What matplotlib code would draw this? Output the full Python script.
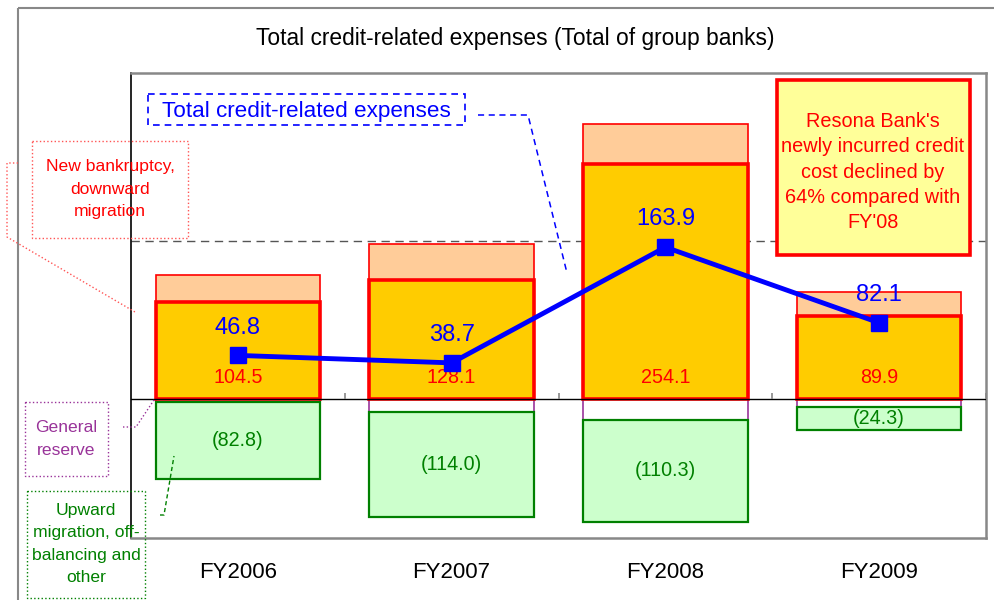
import matplotlib
matplotlib.use('Agg')
import matplotlib.pyplot as plt
from matplotlib.patches import Rectangle
import numpy as np

plt.rcParams['font.family'] = ['Liberation Sans', 'DejaVu Sans']

# data (billions of yen)
years = ['FY2006', 'FY2007', 'FY2008', 'FY2009']
new_bankruptcy = [104.5, 128.1, 254.1, 89.9]
other_cost = [29.0, 39.0, 43.0, 25.9]          # salmon part above
general_reserve = [3.9, 14.4, 23.0, 9.4]       # small negative part
upward_migration = [82.8, 114.0, 110.3, 24.3]  # green negative part
total = [46.8, 38.7, 163.9, 82.1]
ref_level = 171

RED = '#FF0000'
BLUE = '#0000FF'
GREEN = '#008000'
PURPLE = '#993399'

fig = plt.figure(figsize=(9.95, 6.0), dpi=100)
ax = fig.add_axes([131 / 995, 1 - 538 / 600, 855 / 995, 465 / 600])

x = np.arange(len(years))
w = 0.77
nb = np.array(new_bankruptcy)
oc = np.array(other_cost)
gr = np.array(general_reserve)
um = np.array(upward_migration)

ax.axhline(ref_level, color='#555555', lw=1, ls=(0, (6, 4)), zorder=1)

ax.bar(x, oc, w, bottom=nb, color='#FFCC99', edgecolor=RED, linewidth=1.2, zorder=2)
ax.bar(x, nb, w, color='#FFCC00', edgecolor=RED, linewidth=2.6, zorder=3)
ax.bar(x, -gr, w, color='white', edgecolor=PURPLE, linewidth=1.2, zorder=2)
ax.bar(x, -um, w, bottom=-gr, color='#CCFFCC', edgecolor=GREEN, linewidth=1.6, zorder=2)

ax.axhline(0, color='black', lw=1, zorder=4)
ax.vlines(x + 0.5, 0, 6, color='#888888', lw=1.2, zorder=4)

ax.plot(x, total, color=BLUE, lw=3.5, marker='s', ms=12, mfc=BLUE, mec=BLUE, zorder=6)

for i in range(len(years)):
    ax.annotate(f'{total[i]:.1f}', (x[i], total[i]), xytext=(0, 20),
                textcoords='offset points', ha='center', va='center',
                color=BLUE, fontsize=17, zorder=7)
    ax.text(x[i], 23, f'{new_bankruptcy[i]:.1f}', ha='center', va='center',
            color=RED, fontsize=14.2, zorder=5)
    ax.text(x[i], -gr[i] - um[i] / 2, f'({upward_migration[i]:.1f})', ha='center',
            va='center', color=GREEN, fontsize=14.2, zorder=5)
    ax.text(x[i], -35 / 465, years[i], transform=ax.get_xaxis_transform(),
            ha='center', va='center', fontsize=16)

ax.set_xlim(-0.5, 3.5)
ax.set_ylim(-150.8, 352.4)
ax.set_xticks([])
ax.set_yticks([])
for s in ['top', 'right', 'bottom']:
    ax.spines[s].set_color('#888888')
    ax.spines[s].set_linewidth(1.8)
ax.spines['left'].set_color('black')
ax.spines['left'].set_linewidth(1.2)

# overlay in pixel coordinates for frame, callouts and notes
ov = fig.add_axes([0, 0, 1, 1], zorder=10)
ov.set_xlim(0, 995)
ov.set_ylim(600, 0)
ov.axis('off')

ov.add_patch(Rectangle((18, 8), 1000, 700, fill=False, edgecolor='#888888', lw=1.5))
ov.text(515, 38, 'Total credit-related expenses (Total of group banks)',
        ha='center', va='center', fontsize=16.4)

# New bankruptcy callout
ov.add_patch(Rectangle((32, 141), 156, 97, fill=False, edgecolor='#FF5555', lw=1, ls=':'))
ov.text(110, 189, 'New bankruptcy,\ndownward\nmigration', ha='center', va='center',
        color=RED, fontsize=12.6, linespacing=1.65)
ov.plot([18, 7, 7, 135], [163, 163, 237, 312], color='#FF5555', lw=1, ls=':')

# General reserve callout
ov.add_patch(Rectangle((25, 402), 83, 74, fill=False, edgecolor=PURPLE, lw=1, ls=':'))
ov.text(66, 439, 'General\nreserve', ha='center', va='center', color=PURPLE,
        fontsize=12.6, linespacing=1.65)
ov.plot([123, 136, 154], [427, 427, 400], color=PURPLE, lw=1, ls=':')

# Upward migration callout
ov.add_patch(Rectangle((27, 491), 118, 107, fill=False, edgecolor=GREEN, lw=1, ls=':'))
ov.text(86, 544, 'Upward\nmigration, off-\nbalancing and\nother', ha='center',
        va='center', color=GREEN, fontsize=12.6, linespacing=1.62)
ov.plot([160, 164, 174], [515, 515, 456], color=GREEN, lw=1, ls=(0, (3, 2)))

# Total credit-related expenses label
ov.add_patch(Rectangle((148, 94), 317, 31, fill=False, edgecolor=BLUE, lw=1.2, ls=(0, (4, 3))))
ov.text(306, 111, 'Total credit-related expenses', ha='center', va='center',
        color=BLUE, fontsize=16.2)
ov.plot([478, 528, 567], [115, 115, 273], color=BLUE, lw=1.1, ls=(0, (4, 3)))

# Note box
ov.add_patch(Rectangle((777, 80), 193, 175, facecolor='#FFFF99', edgecolor=RED, lw=2.6))
ov.text(873, 172, "Resona Bank's\nnewly incurred credit\ncost declined by\n64% compared with\nFY'08",
        ha='center', va='center', color=RED, fontsize=14.3, linespacing=1.42)

fig.savefig('out.png', dpi=100)
